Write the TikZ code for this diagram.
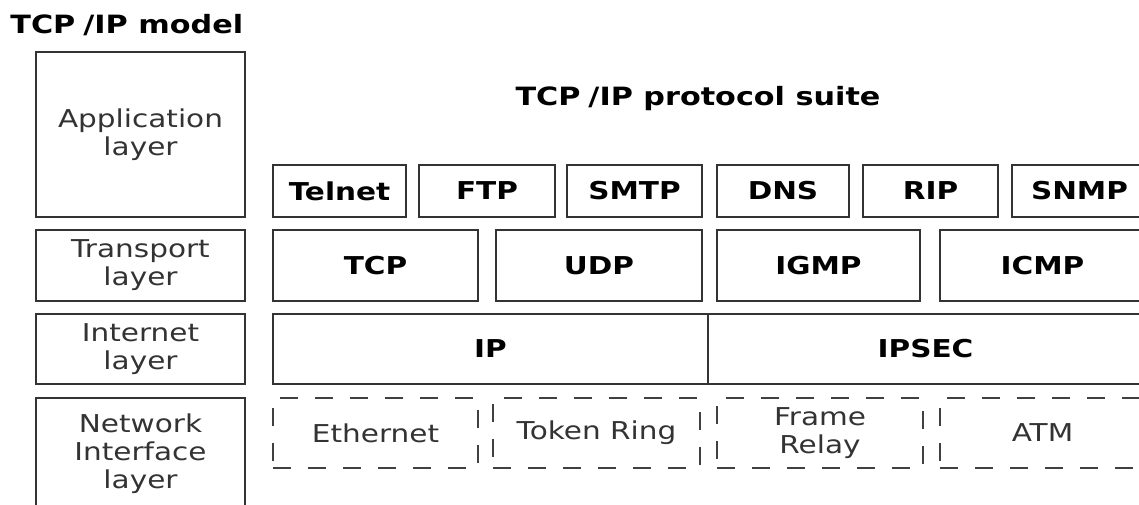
\documentclass[tikz,border=0pt]{standalone}
\usepackage{fontspec}
\setmainfont{DejaVu Sans}[FakeStretch=1.2]
\usetikzlibrary{positioning}

\tikzset{
  layerbox/.style={draw=black!80, line width=1.2pt, inner sep=0pt, align=center,
    text=black!80, font=\fontsize{12.3}{14}\selectfont},
  protobox/.style={layerbox, text=black, font=\fontsize{12.3}{14}\selectfont\bfseries},
  linkbox/.style={layerbox, line width=1pt, dashed, dash pattern=on 9pt off 8.5pt, draw=black!75},
  heading/.style={inner sep=0pt, font=\fontsize{12.6}{14}\selectfont\bfseries}
}

\begin{document}
\begin{tikzpicture}[x=0.5pt, y=-0.5pt]
\clip (0,0) rectangle (1139,504);
\fill[white] (0,0) rectangle (1139,504);

% titles
\node [heading, anchor=base west] (model) at (10,33) {TCP\kern4pt/IP model};
\node [heading, anchor=base] (suite) at (698,105) {TCP\kern4pt/IP protocol suite};

% model layers
\foreach \n/\y/\h/\t in {1/134.5/165/Application\\layer, 2/265.5/71/Transport\\layer,
    3/349/70/Internet\\layer, 4/454/112/Network\\Interface\\layer}
  \node [layerbox, minimum width=209*0.5pt, minimum height=\h*0.5pt] (model-\n) at (140.5,\y) {\t};

% application protocols
\foreach \n/\x/\w/\t in {1/339.5/133/Telnet, 2/487/136/FTP, 3/634.5/135/SMTP,
    4/783/132/DNS, 5/930.5/135/RIP, 6/1079.5/135/SNMP}
  \node [protobox, minimum width=\w*0.5pt, minimum height=52*0.5pt] (app-\n) at (\x,191) {\t};

% transport protocols
\foreach \n/\x/\w/\t in {1/375.5/205/TCP, 2/599/206/UDP, 3/818.5/203/IGMP, 4/1042.5/205/ICMP}
  \node [protobox, minimum width=\w*0.5pt, minimum height=71*0.5pt] (trans-\n) at (\x,265.5) {\t};

% internet protocols
\foreach \n/\x/\t in {1/490.5/IP, 2/925.5/IPSEC}
  \node [protobox, minimum width=435*0.5pt, minimum height=70*0.5pt] (inet-\n) at (\x,349) {\t};

% network interface technologies
\foreach \n/\x/\w/\t in {1/375.5/205/Ethernet, 2/596.5/207/Token Ring,
    3/820/206/Frame\\Relay, 4/1042.5/205/ATM}
  \node [linkbox, minimum width=\w*0.5pt, minimum height=70*0.5pt] (link-\n) at (\x,433) {\t};

\end{tikzpicture}
\end{document}
